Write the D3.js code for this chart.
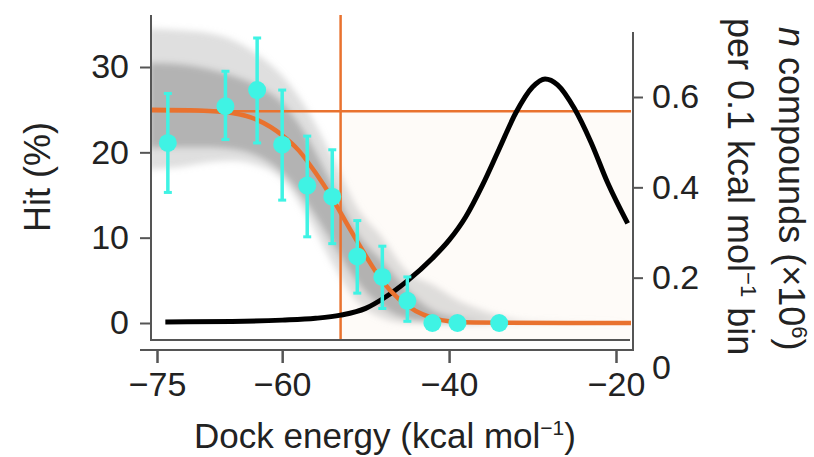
<!DOCTYPE html>
<html>
<head>
<meta charset="utf-8">
<script src="https://cdn.jsdelivr.net/npm/d3@7"></script>
<style>
    body { margin: 0; background: #fff; }
    text { font-family: "Liberation Sans", Arial, sans-serif; fill: #222; }
</style>
</head>
<body>
<svg id="chart" width="814" height="457"></svg>
<script>
        // binned hit rates with error bars
        const binEnergy = [-73.7, -66.8, -63, -60, -57, -54, -51, -48, -45, -42, -39, -34];
        const hitRate   = [21.1, 25.4, 27.3, 20.9, 16.1, 14.8, 7.8, 5.4, 2.6, 0, 0, 0];
        const hitLow    = [15.3, 21.5, 21.1, 14.4, 10.1, 9.3, 3.5, 1.7, 0.2, null, null, null];
        const hitHigh   = [26.9, 29.5, 33.4, 27.3, 21.9, 20.3, 12.0, 9.0, 5.4, null, null, null];

        // fitted sigmoid (orange)
        const fitEnergy = [-76, -70, -66, -63, -60, -58, -56, -54, -52, -50, -48, -46, -44, -42, -40, -37, -18];
        const fitHit    = [25, 24.9, 24.6, 23.8, 22.0, 20.2, 17.6, 14.6, 11.2, 7.9, 4.9, 2.8, 1.4, 0.6, 0.2, 0.05, 0];

        // bootstrap envelope (grey band)
        const bandEnergy = [-76, -72, -69, -66, -63, -60, -57, -54, -51, -48, -45, -42, -39, -36, -33, -30, -18];
        const outerHigh  = [34.5, 34.3, 34, 33.2, 31.5, 29, 25, 19.5, 13.5, 10, 6, 4.5, 2.7, 1.5, 0.6, 0.2, 0];
        const outerLow   = [18, 18.3, 18.8, 19, 18.5, 16.8, 12.5, 7, 2.5, 0.6, 0, 0, 0, 0, 0, 0, 0];
        const innerHigh  = [30.5, 30.3, 29.8, 29, 27.8, 25.8, 21.8, 16.2, 10.5, 7.2, 3.9, 1.5, 0.6, 0.2, 0, 0, 0];
        const innerLow   = [20.5, 20.6, 20.6, 20.4, 19.6, 17.6, 14, 9.4, 4.8, 1.9, 0.5, 0.1, 0, 0, 0, 0, 0];

        // compound count distribution (black, right axis)
        const distEnergy = [-74, -66, -60, -56, -53, -50, -47.8, -45, -42, -40, -38, -36, -34, -32, -30, -28.5, -27, -25, -23, -21, -18.6];
        const distCount  = [0.102, 0.103, 0.106, 0.110, 0.117, 0.132, 0.155, 0.193, 0.243, 0.283, 0.335, 0.405, 0.485, 0.565, 0.622, 0.64, 0.627, 0.575, 0.5, 0.41, 0.32];

        // reference lines
        const cutEnergy = -53;
        const plateauHit = 24.8;

        const xTicks = [-75, -60, -40, -20];
        const yTicks = [0, 10, 20, 30];
        const rTicks = [0, 0.2, 0.4, 0.6];

        const svg = d3.select('#chart');
        const orange = '#e9722f';
        const cyan = '#3ff3e4';

        const plot = { left: 151, right: 633, top: 15, bottom: 340 };

        const xScale = d3.scaleLinear().domain([-75, -20]).range([157, 616]);
        const yScale = d3.scaleLinear().domain([0, 30]).range([323, 67]);
        const rScale = d3.scaleLinear().domain([0, 0.6]).range([368, 97]);

        svg.append('clipPath').attr('id', 'clip')
            .append('rect')
            .attr('x', plot.left + 1).attr('y', plot.top)
            .attr('width', plot.right - plot.left - 3).attr('height', plot.bottom - plot.top);

        const blur = svg.append('filter').attr('id', 'soft')
            .attr('x', '-10%').attr('y', '-10%').attr('width', '120%').attr('height', '120%');
        blur.append('feGaussianBlur').attr('stdDeviation', 3);

        const g = svg.append('g').attr('clip-path', 'url(#clip)');

        // very faint tint below the plateau, right of the cutoff
        g.append('rect')
            .attr('x', xScale(cutEnergy)).attr('y', yScale(plateauHit))
            .attr('width', plot.right - xScale(cutEnergy))
            .attr('height', plot.bottom - yScale(plateauHit))
            .style('fill', '#fefbf8');

        // grey band
        const band = g.append('g').attr('filter', 'url(#soft)');
        const areaOuter = d3.area()
            .x((d, i) => xScale(bandEnergy[i]))
            .y0((d, i) => yScale(outerLow[i]))
            .y1((d, i) => yScale(outerHigh[i]))
            .curve(d3.curveMonotoneX);
        const areaInner = d3.area()
            .x((d, i) => xScale(bandEnergy[i]))
            .y0((d, i) => yScale(innerLow[i]))
            .y1((d, i) => yScale(innerHigh[i]))
            .curve(d3.curveMonotoneX);
        band.append('path').attr('d', areaOuter(bandEnergy))
            .style('fill', '#b8b8b8').style('opacity', 0.45);
        band.append('path').attr('d', areaInner(bandEnergy))
            .style('fill', '#8f8f8f').style('opacity', 0.55);

        // reference lines
        g.append('line')
            .attr('x1', plot.left).attr('x2', plot.right)
            .attr('y1', yScale(plateauHit)).attr('y2', yScale(plateauHit))
            .style('stroke', orange).style('stroke-width', 2.5);
        g.append('line')
            .attr('x1', xScale(cutEnergy)).attr('x2', xScale(cutEnergy))
            .attr('y1', plot.top).attr('y2', plot.bottom)
            .style('stroke', orange).style('stroke-width', 2.5);

        // distribution curve
        const distLine = d3.line()
            .x((d, i) => xScale(distEnergy[i]))
            .y((d, i) => rScale(distCount[i]))
            .curve(d3.curveMonotoneX);
        g.append('path').attr('d', distLine(distEnergy))
            .style('fill', 'none').style('stroke', '#000').style('stroke-width', 5);

        // fitted curve
        const fitLine = d3.line()
            .x((d, i) => xScale(fitEnergy[i]))
            .y((d, i) => yScale(fitHit[i]))
            .curve(d3.curveMonotoneX);
        g.append('path').attr('d', fitLine(fitEnergy))
            .style('fill', 'none').style('stroke', orange).style('stroke-width', 4.5);

        // error bars + points
        const bins = binEnergy.map((e, i) => ({ e: e, v: hitRate[i], lo: hitLow[i], hi: hitHigh[i] }));
        const withErr = bins.filter(d => d.lo !== null);
        const pts = svg.append('g');
        pts.selectAll('.err').data(withErr).enter().append('line')
            .attr('x1', d => xScale(d.e)).attr('x2', d => xScale(d.e))
            .attr('y1', d => yScale(d.lo)).attr('y2', d => yScale(d.hi))
            .style('stroke', cyan).style('stroke-width', 3.5);
        pts.selectAll('.capHi').data(withErr).enter().append('line')
            .attr('x1', d => xScale(d.e) - 4).attr('x2', d => xScale(d.e) + 4)
            .attr('y1', d => yScale(d.hi)).attr('y2', d => yScale(d.hi))
            .style('stroke', cyan).style('stroke-width', 3);
        pts.selectAll('.capLo').data(withErr).enter().append('line')
            .attr('x1', d => xScale(d.e) - 4).attr('x2', d => xScale(d.e) + 4)
            .attr('y1', d => yScale(d.lo)).attr('y2', d => yScale(d.lo))
            .style('stroke', cyan).style('stroke-width', 3);
        pts.selectAll('circle').data(bins).enter().append('circle')
            .attr('cx', d => xScale(d.e)).attr('cy', d => yScale(d.v))
            .attr('r', 9)
            .style('fill', cyan);

        // axes
        const axisColor = '#555';

        const gLeft = svg.append('g').attr('transform', `translate(${plot.left},0)`)
            .call(d3.axisLeft(yScale).tickValues(yTicks).tickSize(11).tickPadding(11));
        gLeft.select('.domain').remove();
        gLeft.selectAll('line').style('stroke', axisColor).style('stroke-width', 2);
        gLeft.selectAll('text').style('font-size', '34px').style('fill', '#222')
            .style('font-family', '"Liberation Sans", Arial, sans-serif');

        const gRight = svg.append('g').attr('transform', `translate(${plot.right},0)`)
            .call(d3.axisRight(rScale).tickValues(rTicks).tickSize(10).tickPadding(9)
                .tickFormat(d => d === 0 ? '0' : d3.format('.1f')(d)));
        gRight.select('.domain').remove();
        gRight.selectAll('.tick').filter(d => d === 0).select('line').remove();
        gRight.selectAll('line').style('stroke', axisColor).style('stroke-width', 2);
        gRight.selectAll('text').style('font-size', '34px').style('fill', '#222')
            .style('font-family', '"Liberation Sans", Arial, sans-serif');

        const gBottom = svg.append('g').attr('transform', 'translate(0,350)')
            .call(d3.axisBottom(xScale).tickValues(xTicks).tickSize(13).tickPadding(9));
        gBottom.select('.domain').remove();
        gBottom.selectAll('line').style('stroke', axisColor).style('stroke-width', 2.5);
        gBottom.selectAll('text').style('font-size', '34px').style('fill', '#222')
            .style('font-family', '"Liberation Sans", Arial, sans-serif');

        // axis lines
        const frame = svg.append('g').style('stroke', axisColor).style('stroke-width', 2).style('fill', 'none');
        frame.append('path').attr('d', `M${plot.left},${plot.top}V${plot.bottom}H${plot.right - 3}`);
        frame.append('path').attr('d', `M140,350H${plot.right}V32`);

        // titles
        const xTitle = svg.append('text')
            .attr('x', 385).attr('y', 448)
            .attr('text-anchor', 'middle')
            .style('font-size', '35px');
        xTitle.append('tspan').text('Dock energy (kcal mol');
        xTitle.append('tspan').attr('dy', -13).style('font-size', '21px').text('\u22121');
        xTitle.append('tspan').attr('dy', 13).text(')');

        svg.append('text')
            .attr('transform', 'translate(50,177) rotate(-90)')
            .attr('text-anchor', 'middle')
            .style('font-size', '36px')
            .text('Hit (%)');

        const r1 = svg.append('text')
            .attr('transform', 'translate(779,27) rotate(90)')
            .style('font-size', '36px');
        r1.append('tspan').style('font-style', 'italic').text('n');
        r1.append('tspan').text(' compounds (\u00d710');
        r1.append('tspan').attr('dy', -13).style('font-size', '22px').text('6');
        r1.append('tspan').attr('dy', 13).text(')');

        const r2 = svg.append('text')
            .attr('transform', 'translate(728,18) rotate(90)')
            .style('font-size', '36px');
        r2.append('tspan').text('per 0.1 kcal mol');
        r2.append('tspan').attr('dy', -13).style('font-size', '22px').text('\u22121');
        r2.append('tspan').attr('dy', 13).text(' bin');
</script>
</body>
</html>
